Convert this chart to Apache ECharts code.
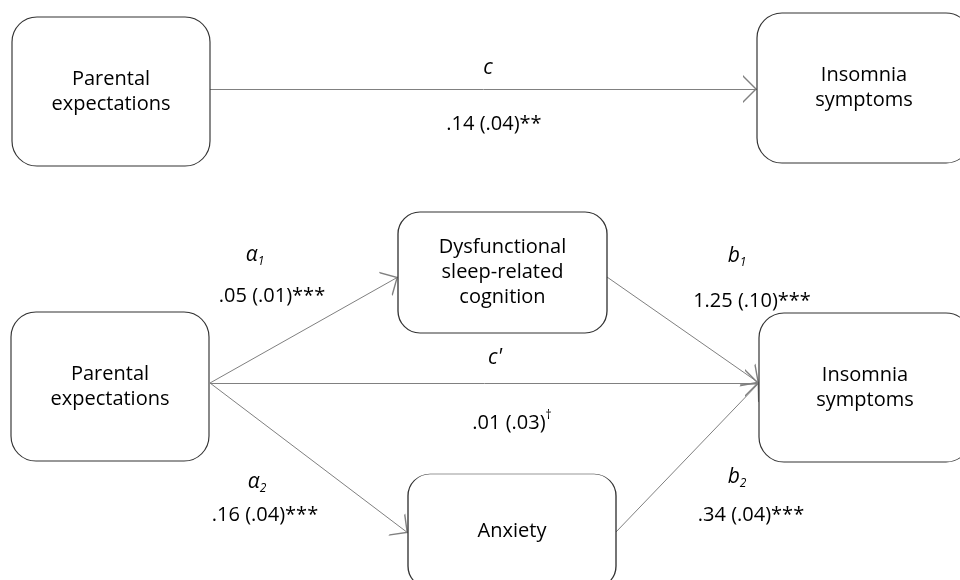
<!DOCTYPE html>
<html lang="en">
<head>
  <meta charset="UTF-8">
  <title>Parental expectations and insomnia symptoms: mediation model</title>
  <script src="https://cdn.jsdelivr.net/npm/echarts@6/dist/echarts.min.js"></script>
  <style>
    body { margin: 0; padding: 0; background: #fff; }
    #pathChart { width: 960px; height: 580px; }
  </style>
</head>
<body>
  <div id="pathChart"></div>

  <script>
    // box texts
    const boxNames = [
      'Parental\nexpectations',
      'Insomnia\nsymptoms',
      'Parental\nexpectations',
      'Dysfunctional\nsleep-related\ncognition',
      'Anxiety',
      'Insomnia\nsymptoms'
    ];
    // box bounds [x0, y0, x1, y1] in the 960 x 580 frame
    const boxBounds = [
      [12, 17, 210, 166],
      [757, 13, 971, 163],
      [11, 312, 209, 461],
      [398, 212, 607, 333],
      [408, 474, 616, 588],
      [759, 313, 971, 462]
    ];

    // paths: start and end point [x1, y1, x2, y2]
    const pathEnds = [
      [210, 89, 757, 89],     // c
      [210, 383, 398, 277],   // a1
      [210, 383, 759, 383],   // c'
      [210, 383, 408, 533],   // a2
      [607, 277, 759, 383],   // b1
      [616, 532, 759, 383]    // b2
    ];

    // path letters and coefficients (rich text)
    const pathLabels = [
      '{it|c}',
      '.14 (.04)**',
      '{it|α}{sub|1}',
      '.05 (.01)***',
      "{it|c'}",
      '.01 (.03){sup|†}',
      '{it|b}{sub|1}',
      '1.25 (.10)***',
      '{it|α}{sub|2}',
      '.16 (.04)***',
      '{it|b}{sub|2}',
      '.34 (.04)***'
    ];
    const pathLabelPos = [
      [488, 68], [494, 124],
      [255, 255], [272, 296],
      [495, 358], [512, 423],
      [737, 256], [752, 301],
      [257, 482], [265, 515],
      [737, 477], [751, 515]
    ];

    const FONT = '"Open Sans", "Noto Sans", sans-serif';

    // rounded rectangle outline as an svg path, size w x h
    function roundRectPath(w, h, r) {
      const k = r * 0.5523;
      return 'path://M' + r + ',0 L' + (w - r) + ',0 ' +
        'C' + (w - r + k) + ',0 ' + w + ',' + (r - k) + ' ' + w + ',' + r + ' ' +
        'L' + w + ',' + (h - r) + ' ' +
        'C' + w + ',' + (h - r + k) + ' ' + (w - r + k) + ',' + h + ' ' + (w - r) + ',' + h + ' ' +
        'L' + r + ',' + h + ' ' +
        'C' + (r - k) + ',' + h + ' 0,' + (h - r + k) + ' 0,' + (h - r) + ' ' +
        'L0,' + r + ' ' +
        'C0,' + (r - k) + ' ' + (r - k) + ',0 ' + r + ',0 Z';
    }

    // open chevron, tip sits at the centre of the symbol box
    const openArrow = 'path://M8.5,0 L8.5,0.01 M8.5,14 L17,28 L15.8,28 L8.5,16 L1.2,28 L0,28 Z';

    const boxData = boxBounds.map(function (b, i) {
      const w = b[2] - b[0];
      const h = b[3] - b[1];
      return {
        name: boxNames[i],
        value: [(b[0] + b[2]) / 2, (b[1] + b[3]) / 2],
        symbol: roundRectPath(w, h, h < 130 ? 22 : 25),
        symbolSize: [w, h]
      };
    });

    const lineData = pathEnds.map(function (p) {
      return { coords: [[p[0], p[1]], [p[2], p[3]]] };
    });

    const labelData = pathLabelPos.map(function (p, i) {
      return { name: pathLabels[i], value: p };
    });

    const chart = echarts.init(document.getElementById('pathChart'));

    const option = {
      backgroundColor: '#fff',
      animation: false,
      grid: { left: 0, right: 0, top: 0, bottom: 0 },
      xAxis: { type: 'value', min: 0, max: 960, show: false },
      yAxis: { type: 'value', min: 0, max: 580, inverse: true, show: false },
      series: [
        {
          type: 'lines',
          coordinateSystem: 'cartesian2d',
          silent: true,
          symbol: ['none', openArrow],
          symbolSize: [17, 28],
          lineStyle: { color: '#808080', width: 1, opacity: 1, curveness: 0 },
          data: lineData,
          z: 1
        },
        {
          type: 'scatter',
          silent: true,
          itemStyle: { color: '#fff', borderColor: '#333', borderWidth: 1, opacity: 1 },
          label: {
            show: true,
            position: 'inside',
            formatter: function (p) { return p.name; },
            color: '#000',
            fontFamily: FONT,
            fontSize: 20,
            lineHeight: 25
          },
          data: boxData,
          z: 2
        },
        {
          type: 'scatter',
          silent: true,
          symbol: 'circle',
          symbolSize: 1,
          itemStyle: { color: 'rgba(255,255,255,0)', opacity: 1 },
          label: {
            show: true,
            position: 'inside',
            formatter: function (p) { return p.name; },
            color: '#000',
            opacity: 1,
            fontFamily: FONT,
            fontSize: 20,
            lineHeight: 26,
            rich: {
              it: { fontFamily: FONT, fontStyle: 'italic', fontSize: 21, lineHeight: 26, color: '#000' },
              sub: { fontFamily: FONT, fontStyle: 'italic', fontSize: 12, lineHeight: 12, verticalAlign: 'bottom', color: '#000' },
              sup: { fontFamily: FONT, fontSize: 12, lineHeight: 12, verticalAlign: 'top', color: '#000' }
            }
          },
          data: labelData,
          z: 3
        }
      ]
    };

    chart.setOption(option);
  </script>
</body>
</html>
